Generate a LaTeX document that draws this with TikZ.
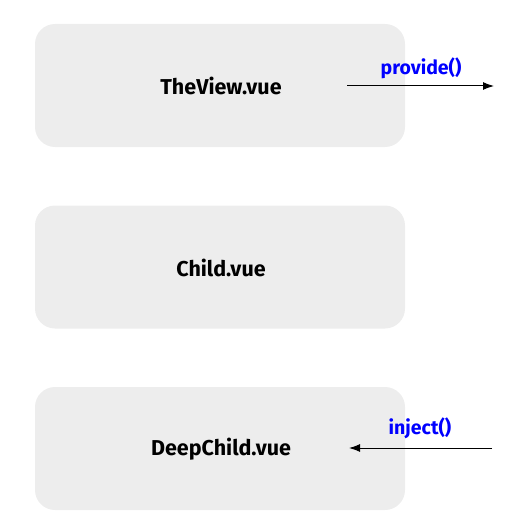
\documentclass[tikz,border=0pt]{standalone}
\usepackage{fontspec}
\setmainfont{Fira Sans}
\usetikzlibrary{arrows.meta}
\definecolor{boxgray}{RGB}{237,237,237}
\tikzset{
  x=1pt,y=-1pt,
  compbox/.style={fill=boxgray,draw=none,rounded corners=20pt,minimum width=370pt,minimum height=123pt,inner sep=0pt},
  comptext/.style={font=\fontsize{21.5}{25}\selectfont\bfseries,text=black},
  calllabel/.style={font=\fontsize{19.5}{23}\selectfont\bfseries,text=blue,inner sep=0pt},
  callarrow/.style={-{Latex[length=11pt,width=8pt]},line width=1pt,black}
}
\begin{document}
\begin{tikzpicture}
\useasboundingbox (0,0) rectangle (519,532);
\node[compbox] (view) at (220,85.5) {};
\node[compbox] (child) at (220,267) {};
\node[compbox] (deep) at (220,448.5) {};
\node[comptext] (viewt) at (221,86) {TheView.vue};
\node[comptext] (childt) at (221,268) {Child.vue};
\node[comptext] (deept) at (221,449) {DeepChild.vue};
\coordinate (p1) at (347,86);
\coordinate (p2) at (494,86);
\draw[callarrow] (p1) -- (p2);
\node[calllabel] (prov) at (421,68) {provide()};
\coordinate (i1) at (492,448);
\coordinate (i2) at (349,448);
\draw[callarrow] (i1) -- (i2);
\node[calllabel] (inj) at (420,428) {inject()};
\end{tikzpicture}
\end{document}
